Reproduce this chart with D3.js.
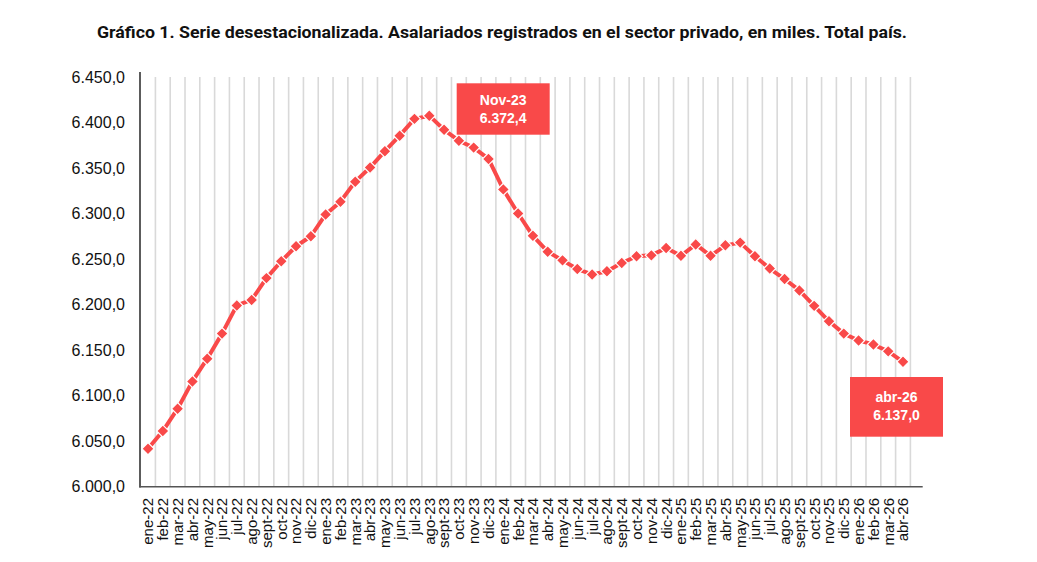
<!DOCTYPE html>
<html>
<head>
<meta charset="utf-8">
<script src="https://cdn.jsdelivr.net/npm/d3@7"></script>
<style>
  html, body { margin: 0; padding: 0; background: #fff; }
  svg { display: block; }
</style>
</head>
<body>
<svg id="chart" width="1037" height="562"></svg>
<script>
const months = ["ene-22","feb-22","mar-22","abr-22","may-22","jun-22","jul-22","ago-22","sept-22","oct-22","nov-22","dic-22",
  "ene-23","feb-23","mar-23","abr-23","may-23","jun-23","jul-23","ago-23","sept-23","oct-23","nov-23","dic-23",
  "ene-24","feb-24","mar-24","abr-24","may-24","jun-24","jul-24","ago-24","sept-24","oct-24","nov-24","dic-24",
  "ene-25","feb-25","mar-25","abr-25","may-25","jun-25","jul-25","ago-25","sept-25","oct-25","nov-25","dic-25",
  "ene-26","feb-26","mar-26","abr-26"];
const values = [6041.5,6060.9,6085.5,6115.5,6140.5,6168.0,6199.0,6205.0,6229.0,6247.5,6264.0,6275.0,
  6299.0,6313.0,6335.0,6350.5,6368.5,6385.5,6404.0,6407.5,6392.0,6380.0,6372.4,6360.0,
  6326.5,6300.0,6275.5,6258.0,6248.5,6239.0,6233.0,6236.5,6245.5,6253.0,6254.0,6262.0,
  6253.5,6266.0,6253.5,6265.0,6268.0,6253.0,6239.5,6228.0,6215.5,6198.5,6181.5,6168.0,
  6160.5,6156.0,6148.5,6137.0];
const yTicks = [6000,6050,6100,6150,6200,6250,6300,6350,6400,6450];
const callouts = [
  {month: "nov-23", title: "Nov-23", value: 6372.4},
  {month: "abr-26", title: "abr-26", value: 6137.0}
];
const titleText = "Gráfico 1. Serie desestacionalizada. Asalariados registrados en el sector privado, en miles. Total país.";

const RED = "#f94949";
const svg = d3.select("#chart");
const loc = d3.formatLocale({decimal: ",", thousands: ".", grouping: [3], currency: ["$", ""]});
const fmt = loc.format(",.1f");

const x = d3.scaleBand().domain(months).range([140.6, 910.4]).padding(0);
const y = d3.scaleLinear().domain([6000, 6450]).range([486.5, 77]);
const cx = m => x(m) + x.bandwidth() / 2;

// title
svg.append("text")
  .attr("x", 97).attr("y", 38)
  .attr("textLength", 810).attr("lengthAdjust", "spacingAndGlyphs")
  .style("font-family", "'Liberation Sans Narrow', 'Arial Narrow', 'Roboto', 'Liberation Sans', Arial, sans-serif")
  .style("font-weight", "bold").style("font-size", "17px").attr("fill", "#111")
  .text(titleText);

// vertical gridlines at band edges
const edges = months.map(m => x(m)).slice(1).concat([x.range()[1]]);
svg.append("g").selectAll("line").data(edges).join("line")
  .attr("x1", d => d).attr("x2", d => d)
  .attr("y1", y(6450)).attr("y2", y(6000))
  .attr("stroke", "#d9d9d9").attr("stroke-width", 1.6);

// y axis
const yAxis = svg.append("g").attr("transform", "translate(140,0)")
  .call(d3.axisLeft(y).tickValues(yTicks).tickFormat(fmt).tickSize(0).tickPadding(15));
yAxis.select(".domain").remove();
yAxis.selectAll("text").style("font-family", "'Liberation Sans', Arial, sans-serif")
  .style("font-size", "16px").attr("fill", "#111");
svg.append("line").attr("x1", 140).attr("x2", 140).attr("y1", 72).attr("y2", 487.5)
  .attr("stroke", "#333").attr("stroke-width", 1.6);

// x axis
const xAxis = svg.append("g").attr("transform", "translate(0,486.5)")
  .call(d3.axisBottom(x).tickSize(0).tickPadding(0));
xAxis.select(".domain").remove();
xAxis.selectAll("text")
  .style("font-family", "'Liberation Sans', Arial, sans-serif").style("font-size", "15px")
  .attr("fill", "#111")
  .attr("text-anchor", "end")
  .attr("transform", "rotate(-90)")
  .attr("x", -11.5).attr("y", 0).attr("dy", "0.36em");
svg.append("line").attr("x1", 139.2).attr("x2", 922.7).attr("y1", 486.7).attr("y2", 486.7)
  .attr("stroke", "#555").attr("stroke-width", 1.6);

// line
const data = months.map((m, i) => ({m, v: values[i]}));
svg.append("path").datum(data)
  .attr("fill", "none").attr("stroke", RED).attr("stroke-width", 4).attr("stroke-linejoin", "round")
  .attr("d", d3.line().x(d => cx(d.m)).y(d => y(d.v)));

// diamond markers
const sym = d3.symbol(d3.symbolSquare, 74);
svg.append("g").selectAll("path").data(data).join("path")
  .attr("d", sym)
  .attr("transform", d => `translate(${cx(d.m)},${y(d.v)}) rotate(45)`)
  .attr("fill", RED).attr("stroke", "#fff").attr("stroke-width", 1.2);

// callouts
const boxes = [
  {dx: 29.5, top: 83.3, w: 93, h: 51.4},
  {dx: -6.5, top: 377, w: 93, h: 59.7}
];
callouts.forEach((c, i) => {
  const b = boxes[i];
  const left = cx(c.month) + b.dx - b.w / 2;
  const g = svg.append("g");
  g.append("rect").attr("x", left).attr("y", b.top).attr("width", b.w).attr("height", b.h).attr("fill", RED);
  const mid = b.top + b.h / 2;
  g.append("text").attr("x", left + b.w / 2).attr("y", mid - 4.5)
    .attr("text-anchor", "middle").attr("fill", "#fff")
    .style("font-family", "'Liberation Sans', Arial, sans-serif").style("font-weight", "bold").style("font-size", "14px")
    .text(c.title);
  g.append("text").attr("x", left + b.w / 2).attr("y", mid + 13.5)
    .attr("text-anchor", "middle").attr("fill", "#fff")
    .style("font-family", "'Liberation Sans', Arial, sans-serif").style("font-weight", "bold").style("font-size", "14px")
    .text(fmt(c.value));
});
</script>
</body>
</html>
